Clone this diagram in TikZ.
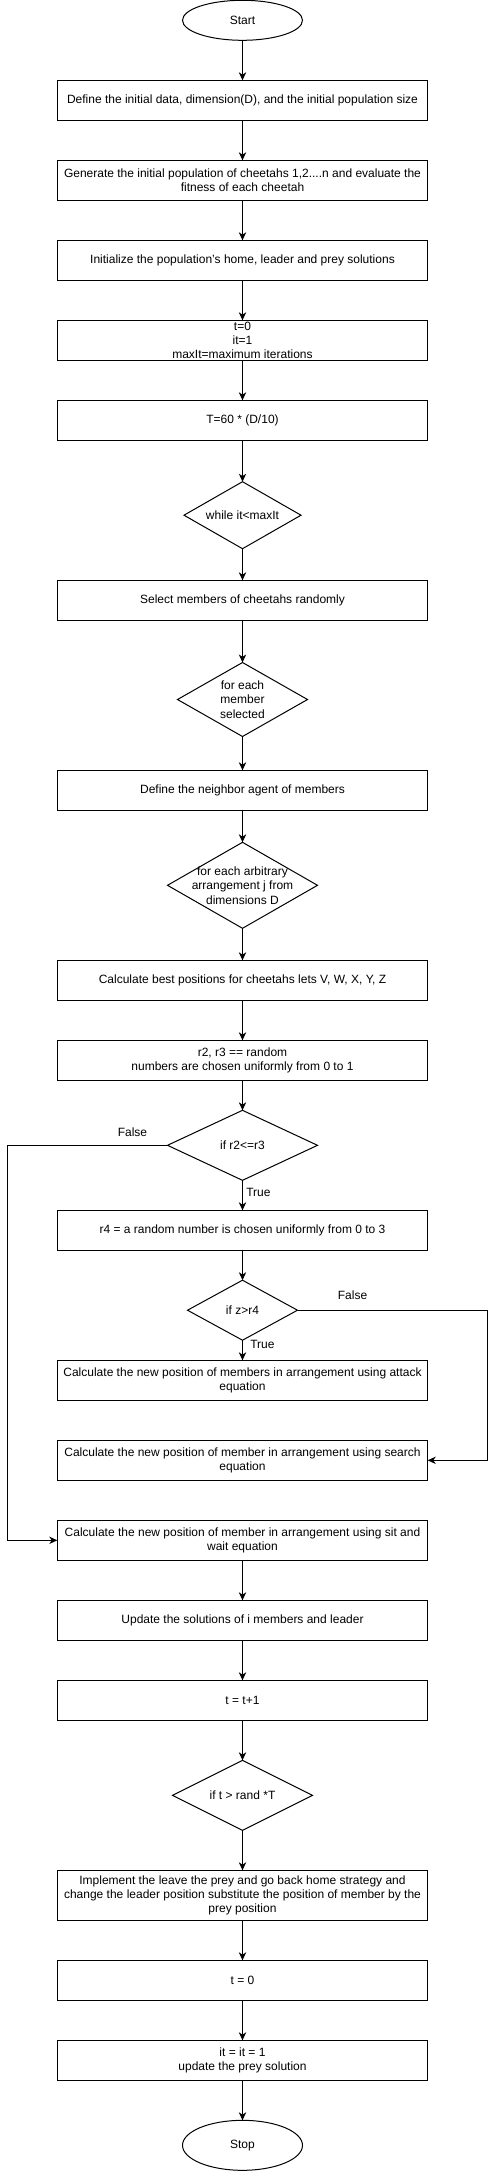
\documentclass[tikz,border=0pt]{standalone}
\usepackage{fontspec}
\setmainfont{Liberation Sans}
\usetikzlibrary{shapes.geometric,arrows.meta}
\newcommand{\ffont}{\fontsize{9pt}{10.8pt}\selectfont}
\tikzset{
  box/.style={draw, rectangle, minimum width=277.8pt, minimum height=30pt, inner sep=0pt, outer sep=0pt, align=center, font=\ffont, line width=0.75pt},
  tallbox/.style={box, minimum height=37.5pt},
  term/.style={draw, ellipse, minimum width=90pt, minimum height=30pt, inner sep=0pt, outer sep=0pt, font=\ffont, line width=0.75pt},
  dia/.style={draw, diamond, inner sep=0pt, outer sep=0pt, line width=0.75pt},
  dtext/.style={align=center, font=\ffont, inner sep=0pt},
  flow/.style={-{Stealth[length=6pt,width=5.5pt,inset=1.8pt]}, line width=0.75pt},
  lbl/.style={font=\ffont, inner sep=0pt}
}
\begin{document}
\begin{tikzpicture}[x=0.75pt, y=-0.75pt]
\useasboundingbox[fill=white] (0,0) rectangle (496,2171);

\node[term] (start) at (242.5,20.3) {Start};
\node[box] (b1) at (242.5,100.3) {Define the initial data, dimension(D), and the initial population size};
\node[box] (b2) at (242.5,180.3) {Generate the initial population of cheetahs 1,2....n and evaluate the\\fitness of each cheetah};
\node[box] (b3) at (242.5,260.3) {Initialize the population's home, leader and prey solutions};
\node[box] (b4) at (242.5,340.3) {t=0\\it=1\\maxIt=maximum iterations};
\node[box] (b5) at (242.5,420.3) {T=60 * (D/10)};

\node[dia, minimum width=87.75pt, minimum height=50.25pt] (d1) at (242.5,515.2) {};
\node[dtext] (d1t) at (d1) {while it<maxIt};

\node[box] (b6) at (242.5,600.3) {Select members of cheetahs randomly};

\node[dia, minimum width=97.5pt, minimum height=55.5pt] (d2) at (242.5,699.5) {};
\node[dtext] (d2t) at (d2) {for each\\member\\selected};

\node[box] (b7) at (242.5,790.3) {Define the neighbor agent of members};

\node[dia, minimum width=112.5pt, minimum height=64.5pt] (d3) at (242.5,885.3) {};
\node[dtext] (d3t) at (d3) {for each arbitrary\\arrangement j from\\dimensions D};

\node[box] (b8) at (242.5,980.3) {Calculate best positions for cheetahs lets V, W, X, Y, Z};
\node[box] (b9) at (242.5,1060.3) {r2, r3 == random\\numbers are chosen uniformly from 0 to 1};

\node[dia, minimum width=112.5pt, minimum height=52.5pt] (d4) at (242.5,1145.3) {};
\node[dtext] (d4t) at (d4) {if r2<=r3};

\node[box] (b10) at (242.5,1230.3) {r4 = a random number is chosen uniformly from 0 to 3};

\node[dia, minimum width=82.5pt, minimum height=45pt] (d5) at (242.5,1310.2) {};
\node[dtext] (d5t) at (d5) {if z>r4};

\node[box] (b11) at (242.5,1380.3) {Calculate the new position of members in arrangement using attack\\equation};
\node[box] (b12) at (242.5,1460.3) {Calculate the new position of member in arrangement using search\\equation};
\node[box] (b13) at (242.5,1540.3) {Calculate the new position of member in arrangement using sit and\\wait equation};
\node[box] (b14) at (242.5,1620.3) {Update the solutions of i members and leader};
\node[box] (b15) at (242.5,1700.3) {t = t+1};

\node[dia, minimum width=105pt, minimum height=52.5pt] (d6) at (242.5,1795.3) {};
\node[dtext] (d6t) at (d6) {if t > rand *T};

\node[tallbox] (b16) at (242.5,1895.3) {Implement the leave the prey and go back home strategy and\\change the leader position substitute the position of member by the\\prey position};
\node[box] (b17) at (242.5,1980.3) {t = 0};
\node[box] (b18) at (242.5,2060.3) {it = it = 1\\update the prey solution};
\node[term, minimum height=37.5pt] (stop) at (242.5,2145.3) {Stop};

% straight connectors
\draw[flow] (start) -- (b1);
\draw[flow] (b1) -- (b2);
\draw[flow] (b2) -- (b3);
\draw[flow] (b3) -- (b4);
\draw[flow] (b4) -- (b5);
\draw[flow] (b5) -- (d1);
\draw[flow] (d1) -- (b6);
\draw[flow] (b6) -- (d2);
\draw[flow] (d2) -- (b7);
\draw[flow] (b7) -- (d3);
\draw[flow] (d3) -- (b8);
\draw[flow] (b8) -- (b9);
\draw[flow] (b9) -- (d4);
\draw[flow] (d4) -- (b10);
\draw[flow] (b10) -- (d5);
\draw[flow] (d5) -- (b11);
\draw[flow] (b13) -- (b14);
\draw[flow] (b14) -- (b15);
\draw[flow] (b15) -- (d6);
\draw[flow] (d6) -- (b16);
\draw[flow] (b16) -- (b17);
\draw[flow] (b17) -- (b18);
\draw[flow] (b18) -- (stop);

% branch connectors
\coordinate (fl) at (7.3,1145.3);
\draw[flow] (d4.west) -- (fl) |- (b13.west);
\coordinate (fr) at (487.3,1310.2);
\draw[flow] (d5.east) -- (fr) |- (b12.east);

% labels
\node[lbl] (lf1) at (132.5,1132.5) {False};
\node[lbl, anchor=west] (lt1) at (246,1192.3) {True};
\node[lbl] (lf2) at (352.5,1294.7) {False};
\node[lbl, anchor=west] (lt2) at (250,1344.7) {True};
\end{tikzpicture}
\end{document}
